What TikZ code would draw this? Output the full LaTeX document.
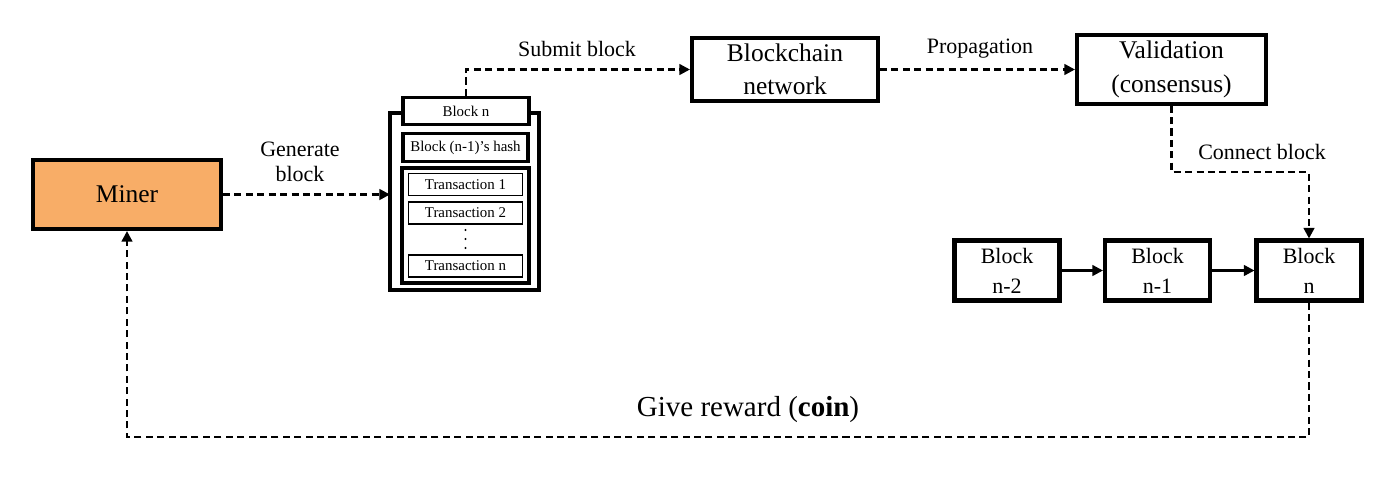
\documentclass[tikz,border=0pt]{standalone}
\usepackage{fontspec}
\setmainfont{Liberation Serif}
\usetikzlibrary{arrows.meta, positioning, calc}
\definecolor{minerorange}{RGB}{248,173,103}

\begin{document}
\begin{tikzpicture}[>={Triangle[length=6pt,width=6pt]},
    bigbox/.style={draw, line width=2.3pt, minimum width=3.72cm, minimum height=1.26cm, align=center, font=\fontsize{14.5}{19}\selectfont},
    chainbox/.style={draw, line width=2.3pt, minimum width=2.1cm, minimum height=1.2cm, align=center, font=\fontsize{12.5}{17}\selectfont},
    stackbox/.style={draw, line width=1.8pt, inner sep=0pt, font=\fontsize{8.5}{10}\selectfont},
    txbox/.style={draw, line width=1.1pt, minimum width=2.28cm, minimum height=0.44cm, inner sep=0pt, font=\fontsize{8.5}{10}\selectfont},
    flow/.style={draw, ->, line width=1.4pt, dash pattern=on 4pt off 2.5pt},
    lbl/.style={align=center, font=\fontsize{12.5}{14.5}\selectfont}]

    \useasboundingbox (0,0) rectangle (28,-9.86);

    % miner
    \node[bigbox, fill=minerorange, minimum width=3.76cm, minimum height=1.38cm] (Miner) at (2.54,-3.89) {Miner};

    % block being built
    \draw[line width=1.8pt] (7.8,-2.26) rectangle (10.78,-5.8);
    \node[stackbox, fill=white, minimum width=2.52cm, minimum height=0.54cm] (BlockN) at (9.32,-2.22) {Block n};
    \node[stackbox, minimum width=2.5cm, minimum height=0.56cm] (Hash) at (9.31,-2.95) {Block (n-1)'s hash};
    \node[stackbox, minimum width=2.54cm, minimum height=2.3cm] (Txs) at (9.31,-4.51) {};
    \node[txbox] (Tx1) at (9.31,-3.69) {Transaction 1};
    \node[txbox] (Tx2) at (9.31,-4.26) {Transaction 2};
    \foreach \dy in {-4.6,-4.78,-4.96}
      \fill (9.31,\dy) circle (0.6pt);
    \node[txbox] (TxN) at (9.31,-5.32) {Transaction n};

    % network side
    \node[bigbox] (Net) at (15.7,-1.39) {Blockchain\\network};
    \node[bigbox, minimum width=3.78cm] (Valid) at (23.43,-1.39) {Validation\\(consensus)};

    % chain
    \node[chainbox] (B2) at (20.14,-5.41) {Block\\n-2};
    \node[chainbox] (B1) at (23.15,-5.41) {Block\\n-1};
    \node[chainbox] (B0) at (26.18,-5.41) {Block\\n};

    % connectors
    \coordinate (stackin) at (7.8,-3.89);
    \coordinate (joinbend) at (26.18,-3.44);
    \coordinate (rewbend) at (26.18,-8.74);
    \draw[flow] (Miner.east) -- (stackin);
    \draw[flow] (BlockN.north) |- (Net.west);
    \draw[flow] (Net.east) -- (Valid.west);
    \draw[flow] (Valid.south) |- (joinbend) -- (B0.north);
    \draw[->, line width=1.4pt] (B2) -- (B1);
    \draw[->, line width=1.4pt] (B1) -- (B0);
    \draw[flow] (B0.south) -- (rewbend) -| (Miner.south);

    % labels
    \node[lbl] (GenLbl) at (6.0,-3.24) {Generate\\block};
    \node[lbl] (SubLbl) at (11.54,-0.98) {Submit block};
    \node[lbl] (PropLbl) at (19.6,-0.98) {Propagation};
    \node[lbl] (ConLbl) at (25.24,-3.04) {Connect block};
    \node[font=\fontsize{16.5}{19}\selectfont] (RewLbl) at (14.96,-8.2) {Give reward (\textbf{coin})};
\end{tikzpicture}
\end{document}
